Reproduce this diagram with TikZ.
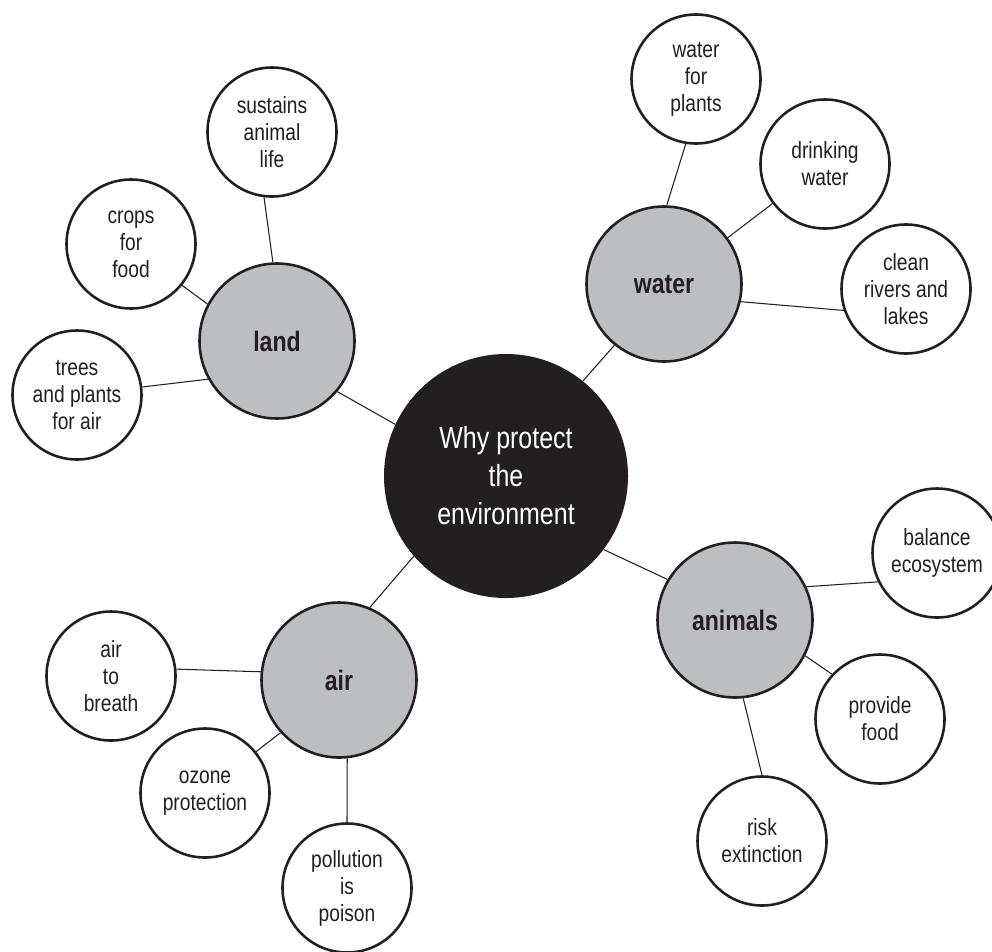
\documentclass[tikz,border=0pt]{standalone}
\usepackage{fontspec}
\setmainfont{Liberation Sans}[FakeStretch=0.82]
\usepackage{tikz}
\definecolor{hubfill}{RGB}{35,31,32}
\definecolor{topicfill}{RGB}{189,190,193}
\definecolor{inkdark}{RGB}{35,31,32}
\tikzset{
  baseblock/.style={
    circle, draw=inkdark, line width=2.2pt,
    inner sep=0pt, align=center, text=inkdark
  },
  hubblock/.style={
    circle, fill=hubfill, text=white, inner sep=0pt,
    minimum size=7.32cm, align=center,
    font=\fontsize{26}{32.4}\selectfont
  },
  topicblock/.style={baseblock, fill=topicfill, minimum size=4.65cm,
    font=\fontsize{24}{28}\selectfont\bfseries},
  leafblock/.style={baseblock, fill=white, minimum size=3.87cm,
    font=\fontsize{20}{23}\selectfont},
  linkline/.style={draw=inkdark, line width=0.9pt}
}
\begin{document}
\begin{tikzpicture}[x=0.03cm, y=-0.03cm]
  \useasboundingbox (0,0) rectangle (992,951);

  % Central hub
  \node[hubblock] (hub) at (506,476) {Why protect\\the\\environment};

  % Topic: land
  \node[topicblock] (land) at (277,341) {land};
  \node[leafblock] (land_life) at (272,132) {sustains\\animal\\life};
  \node[leafblock] (land_crops) at (131,244) {crops\\for\\food};
  \node[leafblock] (land_trees) at (77,395) {trees\\and plants\\for air};

  % Topic: water
  \node[topicblock] (water) at (664,284) {water};
  \node[leafblock] (water_plants) at (696,79) {water\\for\\plants};
  \node[leafblock] (water_drink) at (825,164) {drinking\\water};
  \node[leafblock] (water_clean) at (906,289) {clean\\rivers and\\lakes};

  % Topic: air
  \node[topicblock] (air) at (339,680) {air};
  \node[leafblock] (air_breath) at (111,676) {air\\to\\breath};
  \node[leafblock] (air_ozone) at (205,793) {ozone\\protection};
  \node[leafblock] (air_poison) at (347,888) {pollution\\is\\poison};

  % Topic: animals
  \node[topicblock] (animals) at (735,620) {animals};
  \node[leafblock] (anim_balance) at (937,553) {balance\\ecosystem};
  \node[leafblock] (anim_food) at (880,719) {provide\\food};
  \node[leafblock] (anim_risk) at (762,841) {risk\\extinction};

  % Connections
  \draw[linkline] (hub.155) -- (land.-40);
  \draw[linkline] (hub.51) -- (water.231.6);
  \draw[linkline] (hub.221) -- (air.67.5);
  \draw[linkline] (hub.-37) -- (animals.149);

  \draw[linkline] (land.93) -- (land_life.263);
  \draw[linkline] (land.152.5) -- (land_crops.-39);
  \draw[linkline] (land.209.7) -- (land_trees.7.8);

  \draw[linkline] (water.88) -- (water_plants.261);
  \draw[linkline] (water.36) -- (water_drink.217);
  \draw[linkline] (water.-13.5) -- (water_clean.199);

  \draw[linkline] (air.174) -- (air_breath.6);
  \draw[linkline] (air.222) -- (air_ozone.39);
  \draw[linkline] (air.276) -- (air_poison.90);

  \draw[linkline] (animals.25.6) -- (anim_balance.206.6);
  \draw[linkline] (animals.-27) -- (anim_food.137);
  \draw[linkline] (animals.276.5) -- (anim_risk.90);

\end{tikzpicture}
\end{document}
